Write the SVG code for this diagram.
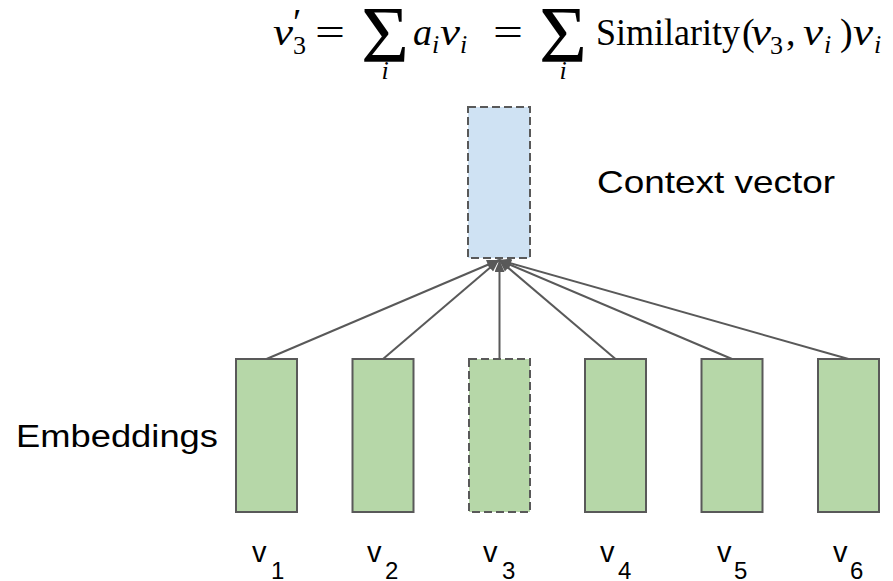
<svg xmlns="http://www.w3.org/2000/svg" width="893" height="581" viewBox="0 0 893 581">
<style>
.box{fill:#b6d7a8;stroke:#595959;stroke-width:2}
.dash{stroke-dasharray:8 4}
.ctx{fill:#cfe2f3;stroke:#595959;stroke-width:2;stroke-dasharray:8 4}
.edge{stroke:#595959;stroke-width:2;fill:none;marker-end:url(#ah)}
.sans{font-family:"Liberation Sans",Arial,sans-serif;fill:#000}
.m{font-family:"Liberation Serif","Times New Roman",serif;fill:#000}
.it{font-style:italic}
</style>
<defs>
<marker id="ah" viewBox="0 0 12 10" refX="12" refY="5" markerWidth="13" markerHeight="10" markerUnits="userSpaceOnUse" orient="auto">
<path d="M0,0 L12,5 L0,10 Z" fill="#595959"/>
</marker>
</defs>
<g id="formula">
<text class="m it" x="273" y="45" font-size="38" textLength="20" lengthAdjust="spacingAndGlyphs">v</text>
<text class="m" x="293" y="35" font-size="38" font-family="DejaVu Serif">′</text>
<text class="m" x="293" y="54" font-size="26">3</text>
<text class="m" x="315" y="45" font-size="38" textLength="30" lengthAdjust="spacingAndGlyphs">=</text>
<text class="m" x="361" y="62" font-size="80" textLength="48" lengthAdjust="spacingAndGlyphs">Σ</text>
<text class="m it" x="385" y="79" font-size="26" text-anchor="middle">i</text>
<text class="m it" x="413" y="45" font-size="38">a</text>
<text class="m it" x="432" y="53" font-size="26">i</text>
<text class="m it" x="440" y="45" font-size="38" textLength="20" lengthAdjust="spacingAndGlyphs">v</text>
<text class="m it" x="460" y="53" font-size="26">i</text>
<text class="m" x="493" y="45" font-size="38" textLength="30" lengthAdjust="spacingAndGlyphs">=</text>
<text class="m" x="539" y="62" font-size="80" textLength="48" lengthAdjust="spacingAndGlyphs">Σ</text>
<text class="m it" x="563" y="79" font-size="26" text-anchor="middle">i</text>
<text class="m" x="596" y="45" font-size="37" textLength="144" lengthAdjust="spacingAndGlyphs">Similarity</text>
<text class="m" x="742" y="45" font-size="38">(</text>
<text class="m it" x="751" y="45" font-size="38" textLength="20" lengthAdjust="spacingAndGlyphs">v</text>
<text class="m" x="770" y="54" font-size="26">3</text>
<text class="m" x="786" y="45" font-size="38">,</text>
<text class="m it" x="803" y="45" font-size="38" textLength="20" lengthAdjust="spacingAndGlyphs">v</text>
<text class="m it" x="824" y="53" font-size="26">i</text>
<text class="m" x="840" y="45" font-size="38">)</text>
<text class="m it" x="853" y="45" font-size="38" textLength="20" lengthAdjust="spacingAndGlyphs">v</text>
<text class="m it" x="874" y="53" font-size="26">i</text>
</g>
<g id="connectors">
<line class="edge" x1="266.5" y1="359" x2="499" y2="260"/>
<line class="edge" x1="383" y1="359" x2="499" y2="260"/>
<line class="edge" x1="499.5" y1="359" x2="499.5" y2="260"/>
<line class="edge" x1="615.5" y1="359" x2="499" y2="260"/>
<line class="edge" x1="732" y1="359" x2="499" y2="260"/>
<line class="edge" x1="848.5" y1="359" x2="499" y2="260"/>
</g>
<g id="context">
<rect class="ctx" x="468" y="107" width="62" height="151"/>
<text class="sans" x="597" y="193" font-size="32" textLength="238" lengthAdjust="spacingAndGlyphs">Context vector</text>
</g>
<g id="embeddings-label">
<text class="sans" x="16" y="447" font-size="31" textLength="202" lengthAdjust="spacingAndGlyphs">Embeddings</text>
</g>
<g id="e1"><rect class="box" x="236" y="359" width="61" height="153"/><text class="sans" x="252" y="562" font-size="29">v</text><text class="sans" x="271" y="579" font-size="24">1</text></g>
<g id="e2"><rect class="box" x="352.5" y="359" width="61" height="153"/><text class="sans" x="367" y="562" font-size="29">v</text><text class="sans" x="385" y="579" font-size="24">2</text></g>
<g id="e3"><rect class="box dash" x="469" y="359" width="61" height="153"/><text class="sans" x="483" y="562" font-size="29">v</text><text class="sans" x="502" y="579" font-size="24">3</text></g>
<g id="e4"><rect class="box" x="585" y="359" width="61" height="153"/><text class="sans" x="600" y="562" font-size="29">v</text><text class="sans" x="618" y="579" font-size="24">4</text></g>
<g id="e5"><rect class="box" x="701.5" y="359" width="61" height="153"/><text class="sans" x="717" y="562" font-size="29">v</text><text class="sans" x="734" y="579" font-size="24">5</text></g>
<g id="e6"><rect class="box" x="818" y="359" width="61" height="153"/><text class="sans" x="833" y="562" font-size="29">v</text><text class="sans" x="850" y="579" font-size="24">6</text></g>
</svg>
